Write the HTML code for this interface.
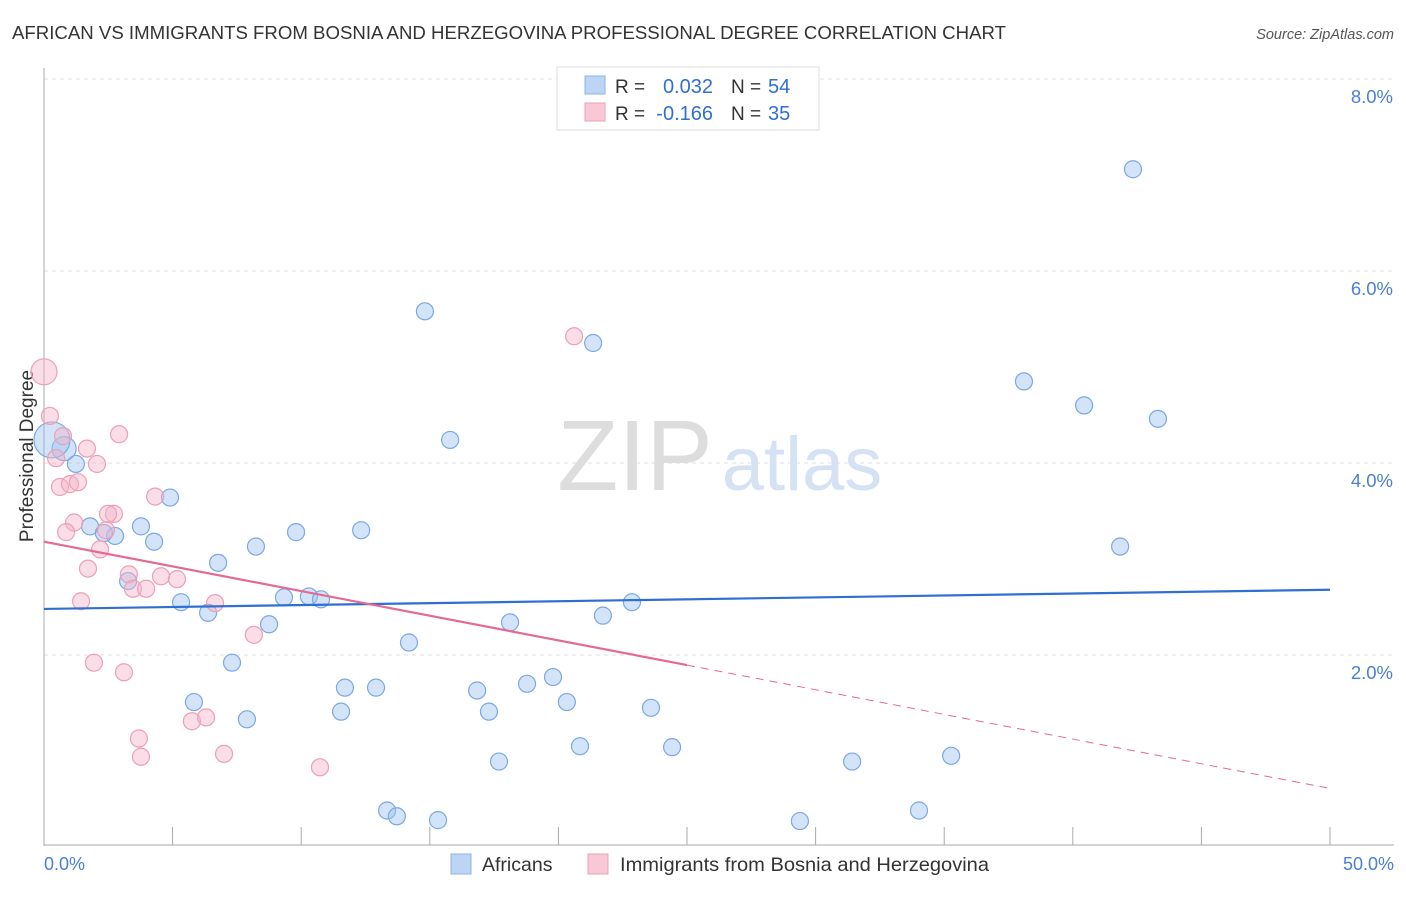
<!DOCTYPE html>
<html><head><meta charset="utf-8"><style>
body{margin:0;background:#fff;font-family:"Liberation Sans",sans-serif;}
svg text{font-family:"Liberation Sans",sans-serif;}
</style></head><body>
<svg id="chart" width="1406" height="892" viewBox="0 0 1406 892" xmlns="http://www.w3.org/2000/svg">
<text x="12" y="39" font-size="18.6" fill="#333" textLength="994" lengthAdjust="spacingAndGlyphs">AFRICAN VS IMMIGRANTS FROM BOSNIA AND HERZEGOVINA PROFESSIONAL DEGREE CORRELATION CHART</text>
<text x="1394" y="39" font-size="14.5" fill="#555" font-style="italic" text-anchor="end">Source: ZipAtlas.com</text>
<g id="grid"></g>
<g>
<text x="635" y="490" font-size="100" fill="#ddd" font-family="Liberation Serif" text-anchor="middle">ZIP</text>
<text x="802" y="490" font-size="76" fill="#d4e2f4" text-anchor="middle">atlas</text>
</g>
<line x1="44" y1="68" x2="44" y2="846" stroke="#aaa"/>
<line x1="44" y1="845" x2="1394" y2="845" stroke="#aaa"/>
<text transform="translate(33,456) rotate(-90)" font-size="19" fill="#333" text-anchor="middle">Professional Degree</text>
<text x="44" y="870" font-size="18" fill="#4a7fd4">0.0%</text>
<text x="1394" y="870" font-size="18" fill="#4a7fd4" text-anchor="end">50.0%</text>
<g id="marks"></g>
<g id="trends"></g>
<g>
<rect x="557" y="67" width="262" height="63" fill="#fff" stroke="#ddd"/>
<rect x="585" y="76" width="20" height="18" fill="#bcd5f5" stroke="#8ab4e8"/>
<rect x="585" y="103" width="20" height="18" fill="#f9c8d6" stroke="#eba0b8"/>
<text x="615" y="93" font-size="19" fill="#333">R =</text>
<text x="713" y="93" font-size="20" fill="#2f6fd0" text-anchor="end">0.032</text>
<text x="731" y="93" font-size="19" fill="#333">N =</text>
<text x="768" y="93" font-size="20" fill="#2f6fd0">54</text>
<text x="615" y="120" font-size="19" fill="#333">R =</text>
<text x="713" y="120" font-size="20" fill="#2f6fd0" text-anchor="end">-0.166</text>
<text x="731" y="120" font-size="19" fill="#333">N =</text>
<text x="768" y="120" font-size="20" fill="#2f6fd0">35</text>
</g>
<g>
<rect x="451" y="854" width="20" height="20" fill="#bcd5f5" stroke="#8ab4e8"/>
<text x="482" y="871" font-size="19.5" fill="#333">Africans</text>
<rect x="588" y="854" width="20" height="20" fill="#f9c8d6" stroke="#eba0b8"/>
<text x="620" y="871" font-size="19.5" fill="#333" textLength="369" lengthAdjust="spacingAndGlyphs">Immigrants from Bosnia and Herzegovina</text>
</g>
</svg>
<script>
const yTicks=[2,4,6,8];
const yTickLabels=["2.0%","4.0%","6.0%","8.0%"];
const xTicks=[0,5,10,15,20,25,30,35,40,45,50];
const africansX=[14.81,21.35,42.34,38.10,40.44,43.31,15.79,41.84,1.24,0.78,0.31,4.90,1.79,2.76,3.77,4.28,2.33,9.80,12.33,8.24,6.77,3.27,5.33,6.38,9.33,10.30,10.77,8.75,18.12,21.73,22.86,14.19,7.31,5.83,7.89,11.70,12.91,11.55,16.84,18.78,19.79,17.30,20.33,23.60,20.84,24.42,17.69,31.42,35.27,13.34,13.72,15.32,29.39,34.02];
const africansY=[5.58,5.25,7.06,4.85,4.60,4.46,4.24,3.13,3.99,4.15,4.24,3.64,3.34,3.24,3.34,3.18,3.27,3.28,3.30,3.13,2.96,2.77,2.55,2.44,2.60,2.61,2.58,2.32,2.34,2.41,2.55,2.13,1.92,1.51,1.33,1.66,1.66,1.41,1.63,1.70,1.77,1.41,1.51,1.45,1.05,1.04,0.89,0.89,0.95,0.38,0.32,0.28,0.27,0.38];
const bosniaX=[0,0.23,0.74,0.47,1.67,2.06,2.92,0.62,1.01,1.32,1.17,0.86,2.72,2.49,2.41,2.18,4.32,1.71,3.30,3.46,4.55,5.17,3.97,1.44,6.65,8.16,1.94,3.11,5.75,6.30,3.69,3.77,7.00,10.73,20.61];
const bosniaY=[4.95,4.49,4.28,4.05,4.15,3.99,4.30,3.75,3.78,3.80,3.38,3.28,3.47,3.47,3.30,3.10,3.65,2.90,2.84,2.69,2.82,2.79,2.69,2.56,2.54,2.21,1.92,1.82,1.31,1.35,1.13,0.94,0.97,0.83,5.32];
const africansTrend=[2.48,2.68];
const bosniaTrend=[3.18,0.61];
const NS="http://www.w3.org/2000/svg";
const xs=v=>44+v/50*1286;
const ys=v=>847-v*96;
function mk(tag,attrs,parent){const e=document.createElementNS(NS,tag);for(const k in attrs)e.setAttribute(k,attrs[k]);parent.appendChild(e);return e;}
const grid=document.getElementById('grid');
yTicks.forEach((t,i)=>{
  const l=mk('line',{x1:44,x2:1394,y1:ys(t),y2:ys(t),stroke:'#ddd','stroke-dasharray':'4,4'},grid);
  
  
  const tx=mk('text',{x:1393,y:ys(t)+24,'font-size':18.5,fill:'#4a7fd4','text-anchor':'end'},grid);
  tx.textContent=yTickLabels[i];
  
  
});
xTicks.forEach(t=>{
  const l=mk('line',{x1:xs(t),x2:xs(t),y1:827,y2:845,stroke:'#aaa'},grid);
  
  
});
const marks=document.getElementById('marks');
africansX.forEach((x,i)=>{
  const r=(i===10)?18:(i===9?12:8.5);
  const c=mk('circle',{cx:xs(x),cy:ys(africansY[i]),r:r,fill:'rgba(160,196,240,0.45)',stroke:'#7aa8e6','stroke-width':1.2},marks);
  
  
});
bosniaX.forEach((x,i)=>{
  const r=(i===0)?13:8.5;
  const c=mk('circle',{cx:xs(x),cy:ys(bosniaY[i]),r:r,fill:'rgba(245,180,200,0.45)',stroke:'#eba0b8','stroke-width':1.2},marks);
  
  
});
const tr=document.getElementById('trends');
const bl=mk('line',{x1:xs(0),y1:ys(africansTrend[0]),x2:xs(50),y2:ys(africansTrend[1]),stroke:'#2f6fd0','stroke-width':2.2},tr);


const pm=bosniaTrend[0]+(bosniaTrend[1]-bosniaTrend[0])*0.5;
const pl=mk('line',{x1:xs(0),y1:ys(bosniaTrend[0]),x2:xs(25),y2:ys(pm),stroke:'#e46a93','stroke-width':2.2},tr);


const pd=mk('line',{x1:xs(25),y1:ys(pm),x2:xs(50),y2:ys(bosniaTrend[1]),stroke:'#e46a93','stroke-width':1,'stroke-dasharray':'8,6'},tr);


</script>
</body></html>
